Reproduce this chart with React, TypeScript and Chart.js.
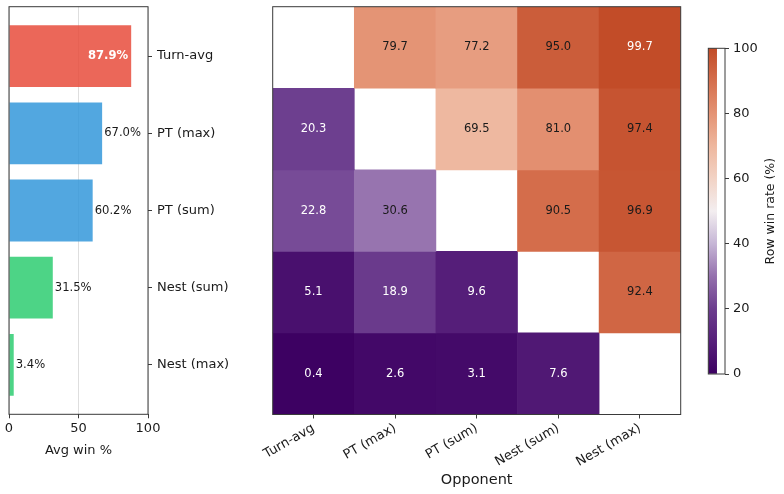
import { useEffect, useRef } from "react";
import { Chart, registerables } from "chart.js";

Chart.register(...registerables);
Chart.defaults.font.family = "'DejaVu Sans', sans-serif";

// ---- data ----
const players = ["Turn-avg", "PT (max)", "PT (sum)", "Nest (sum)", "Nest (max)"];
const avgWin = [87.9, 67.0, 60.2, 31.5, 3.4];
const barColors = [
  "rgba(231,76,60,0.85)",
  "rgba(52,152,219,0.85)",
  "rgba(52,152,219,0.85)",
  "rgba(46,204,113,0.85)",
  "rgba(46,204,113,0.85)",
];
const winRow0 = [null, 79.7, 77.2, 95.0, 99.7];
const winRow1 = [20.3, null, 69.5, 81.0, 97.4];
const winRow2 = [22.8, 30.6, null, 90.5, 96.9];
const winRow3 = [5.1, 18.9, 9.6, null, 92.4];
const winRow4 = [0.4, 2.6, 3.1, 7.6, null];
const winMatrix: (number | null)[][] = [winRow0, winRow1, winRow2, winRow3, winRow4];
const barTicks = [0, 50, 100];
const cbarTicks = [0, 20, 40, 60, 80, 100];
const cmapStops: [number, string][] = [
  [0, "#3c0061"],
  [10, "#561f7a"],
  [20, "#6c3d8e"],
  [30, "#9470ad"],
  [40, "#c6b6d6"],
  [50, "#f3eef0"],
  [60, "#f2d3c5"],
  [70, "#eeb79e"],
  [80, "#e49374"],
  [90, "#d56f4d"],
  [100, "#c14b27"],
];

const W = 784;
const H = 494;
const TXT = "#1a1a1a";
const SPINE = "#3a3a3a";
const TICK_FONT = { size: 13 };

function hexToRgb(h: string) {
  const n = parseInt(h.slice(1), 16);
  return [(n >> 16) & 255, (n >> 8) & 255, n & 255];
}
function cmap(v: number) {
  for (let i = 0; i < cmapStops.length - 1; i++) {
    const [a, ca] = cmapStops[i];
    const [b, cb] = cmapStops[i + 1];
    if (v >= a && v <= b) {
      const t = (v - a) / (b - a);
      const A = hexToRgb(ca);
      const B = hexToRgb(cb);
      const c = A.map((x, k) => Math.round(x + (B[k] - x) * t));
      return `rgb(${c[0]},${c[1]},${c[2]})`;
    }
  }
  return cmapStops[cmapStops.length - 1][1];
}

const framePlugin = {
  id: "frame",
  afterDraw(chart: any) {
    const { ctx, chartArea: a } = chart;
    ctx.save();
    ctx.strokeStyle = SPINE;
    ctx.lineWidth = 1;
    ctx.strokeRect(a.left, a.top, a.right - a.left, a.bottom - a.top);
    ctx.restore();
  },
};

const barLabelPlugin = {
  id: "barLabels",
  afterDatasetsDraw(chart: any) {
    const { ctx } = chart;
    const meta = chart.getDatasetMeta(0);
    ctx.save();
    ctx.textBaseline = "middle";
    meta.data.forEach((el: any, i: number) => {
      const v = avgWin[i];
      const label = v.toFixed(1) + "%";
      if (v > 80) {
        ctx.font = "bold 11.6px 'DejaVu Sans'";
        ctx.fillStyle = "#ffffff";
        ctx.textAlign = "right";
        ctx.fillText(label, el.x - 3, el.y);
      } else {
        ctx.font = "11.6px 'DejaVu Sans'";
        ctx.fillStyle = TXT;
        ctx.textAlign = "left";
        ctx.fillText(label, el.x + 2, el.y);
      }
    });
    ctx.restore();
  },
};

const cellLabelPlugin = {
  id: "cellLabels",
  afterDatasetsDraw(chart: any) {
    const { ctx } = chart;
    ctx.save();
    ctx.font = "11.5px 'DejaVu Sans'";
    ctx.textAlign = "center";
    ctx.textBaseline = "middle";
    winMatrix.forEach((row, r) => {
      const meta = chart.getDatasetMeta(r);
      row.forEach((v, c) => {
        if (v == null) return;
        const el = meta.data[c];
        const p = el.getCenterPoint();
        ctx.fillStyle = v < 25 || v > 98 ? "#ffffff" : TXT;
        ctx.fillText(v.toFixed(1), p.x, p.y);
      });
    });
    ctx.restore();
  },
};

const cbarLabelPlugin = {
  id: "cbarLabel",
  afterDraw(chart: any) {
    const { ctx, chartArea: a } = chart;
    ctx.save();
    ctx.translate(771, (a.top + a.bottom) / 2);
    ctx.rotate(-Math.PI / 2);
    ctx.font = "12.5px 'DejaVu Sans'";
    ctx.fillStyle = TXT;
    ctx.textAlign = "center";
    ctx.textBaseline = "middle";
    ctx.fillText("Row win rate (%)", 0, 0);
    ctx.restore();
  },
};

function barConfig(): any {
  return {
    type: "bar",
    data: {
      datasets: [
        {
          data: avgWin.map((v, i) => ({ x: v, y: i })),
          backgroundColor: barColors,
          borderWidth: 0,
          barPercentage: 0.8,
          categoryPercentage: 1,
        },
      ],
    },
    options: {
      indexAxis: "y",
      responsive: false,
      animation: false,
      devicePixelRatio: 1,
      events: [],
      layout: { padding: { left: 9, top: 6.7, right: W - 148 - 100, bottom: H - 414.3 - 46 } },
      plugins: { legend: { display: false }, tooltip: { enabled: false } },
      scales: {
        x: {
          type: "linear",
          position: "bottom",
          min: 0,
          max: 100,
          afterBuildTicks: (s: any) => {
            s.ticks = barTicks.map((v) => ({ value: v }));
          },
          afterFit: (s: any) => {
            s.height = 46;
            s.paddingLeft = 0;
            s.paddingRight = 0;
          },
          grid: { color: "#dedede", lineWidth: 1, drawTicks: true, tickLength: 4, tickColor: SPINE },
          border: { display: false },
          ticks: { font: TICK_FONT, color: TXT, padding: 3, maxRotation: 0 },
          title: { display: true, text: "Avg win %", font: { size: 13 }, color: TXT, padding: { top: 0, bottom: 2 } },
        },
        y: {
          type: "linear",
          position: "right",
          offset: false,
          min: -0.64,
          max: 4.64,
          reverse: true,
          afterBuildTicks: (s: any) => {
            s.ticks = players.map((_, i) => ({ value: i }));
          },
          afterFit: (s: any) => {
            s.width = 100;
            s.paddingTop = 0;
            s.paddingBottom = 0;
          },
          grid: { offset: false, drawOnChartArea: false, drawTicks: true, tickLength: 4, tickColor: SPINE },
          border: { display: false },
          ticks: { font: TICK_FONT, color: TXT, padding: 5, callback: (v: any) => players[v] },
        },
      },
    },
    plugins: [barLabelPlugin, framePlugin],
  };
}

function heatConfig(): any {
  return {
    type: "bar",
    data: {
      labels: players,
      datasets: winMatrix.map((row, r) => ({
        data: row.map((v) => (v == null ? null : [r - 0.5, r + 0.5])),
        backgroundColor: row.map((v) => (v == null ? "rgba(0,0,0,0)" : cmap(v))),
        borderWidth: 0,
        grouped: false,
        barPercentage: 1,
        categoryPercentage: 1,
      })),
    },
    options: {
      responsive: false,
      animation: false,
      devicePixelRatio: 1,
      events: [],
      layout: { padding: { left: 272.7, top: 6.7, right: W - 680.7, bottom: 0 } },
      plugins: { legend: { display: false }, tooltip: { enabled: false } },
      scales: {
        x: {
          type: "category",
          position: "bottom",
          afterFit: (s: any) => {
            s.height = H - 414.5;
            s.paddingLeft = 0;
            s.paddingRight = 0;
          },
          grid: { drawOnChartArea: false, drawTicks: true, tickLength: 4, tickColor: SPINE, offset: false },
          border: { display: false },
          ticks: { font: TICK_FONT, color: TXT, padding: 2, minRotation: 30, maxRotation: 30, autoSkip: false },
          title: { display: true, text: "Opponent", font: { size: 14.5 }, color: TXT, padding: { top: 0, bottom: 5.3 } },
        },
        y: {
          type: "linear",
          display: false,
          min: -0.5,
          max: 4.5,
          reverse: true,
        },
      },
    },
    plugins: [cellLabelPlugin, framePlugin],
  };
}

function cbarConfig(): any {
  return {
    type: "bar",
    data: {
      labels: ["cbar"],
      datasets: [
        {
          data: [[cbarTicks[0], cbarTicks[cbarTicks.length - 1]]],
          backgroundColor: (ctx: any) => {
            const chart = ctx.chart;
            const ys = chart.scales.y;
            if (!ys || !chart.chartArea) return cmapStops[0][1];
            const g = chart.ctx.createLinearGradient(0, ys.getPixelForValue(0), 0, ys.getPixelForValue(100));
            cmapStops.forEach(([v, c]) => g.addColorStop(v / 100, c));
            return g;
          },
          borderWidth: 0,
          barPercentage: 1,
          categoryPercentage: 1,
        },
      ],
    },
    options: {
      responsive: false,
      animation: false,
      devicePixelRatio: 1,
      events: [],
      layout: { padding: { left: 708.3, top: 48.3, right: W - 725 - 50, bottom: H - 374 } },
      plugins: { legend: { display: false }, tooltip: { enabled: false } },
      scales: {
        x: { type: "category", display: false, offset: false },
        y: {
          type: "linear",
          position: "right",
          min: 0,
          max: 100,
          afterBuildTicks: (s: any) => {
            s.ticks = cbarTicks.map((v) => ({ value: v }));
          },
          afterFit: (s: any) => {
            s.width = 50;
            s.paddingTop = 0;
            s.paddingBottom = 0;
          },
          grid: { drawOnChartArea: false, drawTicks: true, tickLength: 4, tickColor: SPINE },
          border: { display: false },
          ticks: { font: TICK_FONT, color: TXT, padding: 4 },
        },
      },
    },
    plugins: [framePlugin, cbarLabelPlugin],
  };
}

export default function App() {
  const r1 = useRef<HTMLCanvasElement>(null);
  const r2 = useRef<HTMLCanvasElement>(null);
  const r3 = useRef<HTMLCanvasElement>(null);
  useEffect(() => {
    const charts = [
      new Chart(r1.current!, barConfig()),
      new Chart(r2.current!, heatConfig()),
      new Chart(r3.current!, cbarConfig()),
    ];
    return () => charts.forEach((c) => c.destroy());
  }, []);
  const cs: any = { position: "absolute", left: 0, top: 0 };
  return (
    <div style={{ position: "fixed", left: 0, top: 0, width: W, height: H, background: "#ffffff" }}>
      <canvas ref={r1} width={W} height={H} style={cs} />
      <canvas ref={r2} width={W} height={H} style={cs} />
      <canvas ref={r3} width={W} height={H} style={cs} />
    </div>
  );
}
